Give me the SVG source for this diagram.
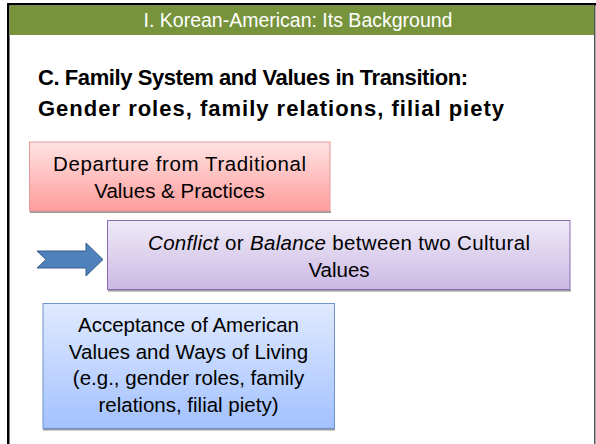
<svg xmlns="http://www.w3.org/2000/svg" width="596" height="444" viewBox="0 0 596 444">
  <defs>
    <linearGradient id="gRed" x1="0" y1="0" x2="0" y2="1">
      <stop offset="0" stop-color="#FFE3E3"/>
      <stop offset="1" stop-color="#FF9C9C"/>
    </linearGradient>
    <linearGradient id="gPurple" x1="0" y1="0" x2="0" y2="1">
      <stop offset="0" stop-color="#EFEAF7"/>
      <stop offset="1" stop-color="#CBB9E4"/>
    </linearGradient>
    <linearGradient id="gBlue" x1="0" y1="0" x2="0" y2="1">
      <stop offset="0" stop-color="#E0EAFF"/>
      <stop offset="1" stop-color="#A3C1FF"/>
    </linearGradient>
  </defs>
  <style>
    .txt { font-family: "Liberation Sans", Arial, sans-serif; fill: #000; text-anchor: middle; }
    .box { font-size: 20.5px; }
    .head { font-size: 22px; font-weight: bold; text-anchor: start; }
    .title { font-size: 19.5px; fill: #FFFFFF; }
    .shadow { fill: #9A9A9A; }
  </style>

  <!-- slide frame -->
  <rect x="0" y="0" width="596" height="444" fill="#FFFFFF"/>
  <rect x="7" y="3" width="589" height="2.5" fill="#000000"/>
  <rect x="7" y="3" width="2.5" height="441" fill="#000000"/>
  <rect x="594" y="5" width="1.5" height="439" fill="#555555"/>

  <!-- title banner -->
  <g id="banner">
    <rect x="9.5" y="5.5" width="584.5" height="29.5" fill="#77933C"/>
    <text class="txt title" x="298" y="27">I.  Korean-American: Its Background</text>
  </g>

  <!-- section heading -->
  <g id="heading">
    <text class="txt head" x="38" y="84.5" textLength="430">C. Family System and Values in Transition:</text>
    <text class="txt head" x="38" y="116" textLength="466">Gender roles, family relations, filial piety</text>
  </g>

  <!-- departure box -->
  <g id="departure">
    <rect class="shadow" x="30" y="211" width="301" height="2"/>
    <rect x="29.5" y="142" width="300.5" height="69" fill="url(#gRed)" stroke="#E59A9A" stroke-width="1"/>
    <text class="txt box" x="179.5" y="170.5" textLength="253">Departure from Traditional</text>
    <text class="txt box" x="179.5" y="197.5">Values &amp; Practices</text>
  </g>

  <!-- conflict / balance box -->
  <g id="conflict">
    <rect class="shadow" x="108" y="289.5" width="463" height="2"/>
    <rect x="107.5" y="220.5" width="462.5" height="69" fill="url(#gPurple)" stroke="#8B6DB5" stroke-width="1"/>
    <text class="txt box" x="339" y="249.5" textLength="382"><tspan font-style="italic">Conflict</tspan> or <tspan font-style="italic">Balance</tspan> between two Cultural</text>
    <text class="txt box" x="339" y="277">Values</text>
  </g>

  <!-- acceptance box -->
  <g id="acceptance">
    <rect class="shadow" x="43" y="428.5" width="292" height="2"/>
    <rect x="43" y="303.5" width="291.5" height="125" fill="url(#gBlue)" stroke="#6D93CF" stroke-width="1"/>
    <text class="txt box" x="188.5" y="332">Acceptance of American</text>
    <text class="txt box" x="188.5" y="358.5">Values and Ways of Living</text>
    <text class="txt box" x="188.5" y="385">(e.g., gender roles, family</text>
    <text class="txt box" x="188.5" y="411.5">relations, filial piety)</text>
  </g>

  <!-- connectors -->
  <g id="connectors">
    <polygon points="37,251 86,251 86,243 103,259.5 86,276 86,268 37,268 46,259.5" fill="#4F81BD" stroke="#385D8A" stroke-width="1" stroke-linejoin="miter"/>
  </g>
</svg>
